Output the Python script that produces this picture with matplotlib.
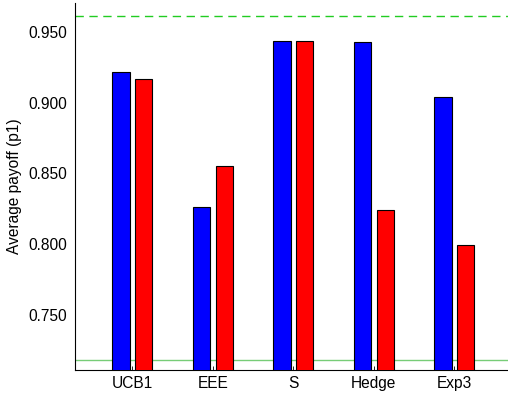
import numpy as np
import matplotlib
matplotlib.use('Agg')
from matplotlib import pyplot as plt

plt.rcParams['font.family'] = ['Liberation Sans', 'DejaVu Sans']

algos = ['UCB1', 'EEE', 'S', 'Hedge', 'Exp3']
blue_vals = [0.9218, 0.8263, 0.9435, 0.9430, 0.9040]
red_vals = [0.9170, 0.8553, 0.9435, 0.8240, 0.7993]
upper_ref = 0.961
lower_ref = 0.7182

fig = plt.figure(figsize=(5.08, 3.95), dpi=100)
ax = fig.add_axes([0.1476, 0.0633, 0.8524, 0.929])

x = np.arange(1, len(algos) + 1)
ax.bar(x - 0.14, blue_vals, width=0.22, color='#0000ff', edgecolor='black', linewidth=0.8, zorder=3)
ax.bar(x + 0.145, red_vals, width=0.21, color='#ff0000', edgecolor='black', linewidth=0.8, zorder=3)

ax.axhline(upper_ref, color='#22cc22', linestyle=(0, (6, 4)), linewidth=1.0, zorder=2)
ax.axhline(lower_ref, color='#77cc77', linestyle='-', linewidth=1.0, zorder=2)

ax.set_xlim(0.288, 5.67)
ax.set_ylim(0.7112, 0.9703)
ax.set_xticks(x)
ax.set_xticklabels(algos)
ax.set_yticks([0.75, 0.80, 0.85, 0.90, 0.95])
ax.set_yticklabels(['0.750', '0.800', '0.850', '0.900', '0.950'])
ax.tick_params(direction='in', length=3, width=0.6, labelsize=11.2, pad=4)
ax.tick_params(axis='y', length=0, pad=6)
ax.set_ylabel('Average payoff (p1)', fontsize=11.2, labelpad=4)

for s in ['top', 'right']:
    ax.spines[s].set_visible(False)
for s in ['left', 'bottom']:
    ax.spines[s].set_linewidth(0.8)

fig.savefig('out.png', dpi=100)
